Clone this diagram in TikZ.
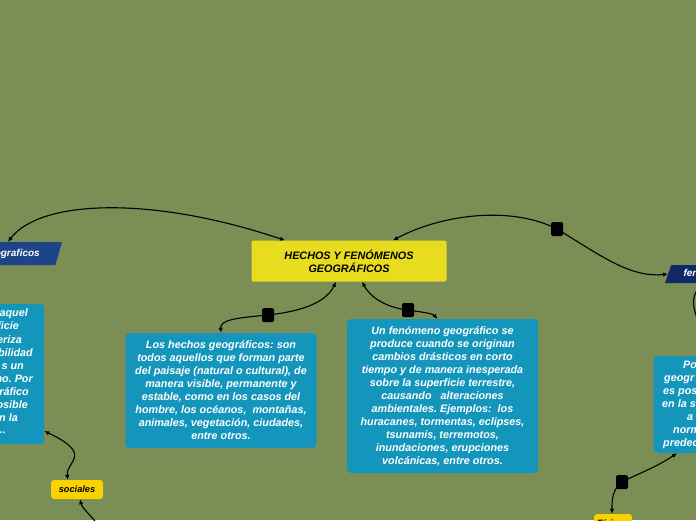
\documentclass[tikz,border=0pt]{standalone}
\usepackage{fontspec}
\setmainfont{Liberation Sans}
\usetikzlibrary{positioning, arrows.meta, shapes.geometric}
\definecolor{fondo}{RGB}{123,142,86}
\definecolor{amarillo}{RGB}{232,220,30}
\definecolor{oro}{RGB}{250,210,0}
\definecolor{celeste}{RGB}{20,150,188}
\definecolor{azul}{RGB}{28,68,134}
\definecolor{marino}{RGB}{14,40,104}
\newcommand{\trespuntos}{...}
\frenchspacing

\begin{document}
\begin{tikzpicture}[x=1pt, y=-1pt,
    caja/.style={rectangle, rounded corners=4pt, fill=celeste, text=white, align=center, inner sep=0pt, minimum width=191pt, font=\bfseries\itshape\fontsize{10.8}{13}\selectfont},
    titulo/.style={rectangle, rounded corners=2pt, fill=amarillo, align=center, minimum width=195pt, minimum height=41pt, font=\bfseries\itshape\fontsize{10.8}{13}\selectfont},
    etiqueta/.style={rectangle, rounded corners=3pt, fill=oro, minimum height=19pt, inner sep=0pt, font=\bfseries\itshape\fontsize{9.2}{11}\selectfont},
    rombo/.style={trapezium, trapezium left angle=62, trapezium right angle=118, trapezium stretches=true, text=white, inner sep=0pt, font=\bfseries\itshape\fontsize{10}{12}\selectfont},
    nudo/.style={rectangle, rounded corners=1.5pt, fill=black, minimum width=12pt, minimum height=14pt, inner sep=0pt},
    frag/.style={inner sep=0pt, text=white, text height=7.5pt, text depth=2pt, font=\bfseries\itshape\fontsize{10.8}{13}\selectfont},
    enlace/.style={line width=1.1pt, {Latex[length=5pt,width=4.5pt]}-{Latex[length=5pt,width=4.5pt]}},
    entra/.style={line width=1.1pt, -{Latex[length=5pt,width=4.5pt]}}
]
\useasboundingbox (0,0) rectangle (696,520);
\fill[fondo] (0,0) rectangle (696,520);

% nodos principales
\node[titulo] (hechos) at (349, 261) {HECHOS Y FENÓMENOS\\GEOGRÁFICOS};
\node[caja, minimum height=115pt] (hechosbox) at (221, 390.5) {Los hechos geográficos: son\\todos aquellos que forman parte\\del paisaje (natural o cultural), de\\manera visible, permanente y\\estable, como en los casos del\\hombre, los océanos,\ \ montañas,\\animales, vegetación, ciudades,\\entre otros.};
\node[caja, minimum height=154pt] (fenbox) at (442.5, 396) {Un fenómeno geográfico se\\produce cuando se originan\\cambios drásticos en corto\\tiempo y de manera inesperada\\sobre la superficie terrestre,\\causando\ \ \ alteraciones\\ambientales. Ejemplos:\ \ los\\huracanes, tormentas, eclipses,\\tsunamis, terremotos,\\inundaciones, erupciones\\volcánicas, entre otros.};

\node[rombo, fill=azul, minimum width=140pt, minimum height=23pt] (geo) at (-8, 253.5) {Hechos geograficos};
\node[rombo, fill=marino, minimum width=150pt, minimum height=18pt] (fenpara) at (740, 274) {fenómenos geográficos};

\node[caja, minimum height=140pt] (defbox) at (-51.5, 374) {};
\node[caja, minimum height=97pt] (porbox) at (749, 404.5) {};

\node[etiqueta, minimum width=52pt] (soc) at (77, 489.5) {sociales};
\node[etiqueta, minimum width=38pt] (fis) at (613, 523.5) {Físicos};

% textos cortados por el borde
\foreach \txt/\xe/\ye [count=\i] in {aquel/28/314, ficie/19/327, eriza/22/341, bilidad/33/354, s un/24/367, no. Por/33/380, ráfico/29/393, osible/28/406, n la/18/419, \trespuntos/6/431}
    \node[frag, anchor=east] (izq\i) at (\xe, \ye) {\txt};
\foreach \txt/\xs/\ye [count=\i] in {Po/683/366, geogr/664/379, es pos/663/392, en la s/662/405, a/687/418, norm/673/431, predec/663/444}
    \node[frag, anchor=west] (der\i) at (\xs, \ye) {\txt};

% nudos
\node[nudo] (n1) at (557, 229) {};
\node[nudo] (n2) at (268, 315) {};
\node[nudo] (n3) at (408, 310) {};
\node[nudo] (n4) at (622, 482) {};
\coordinate (abajo) at (104, 532);

% conexiones
\draw[enlace] ([xshift=16pt]geo.north) .. controls (40,200) and (150,195) .. ([xshift=-64pt]hechos.north);
\draw[enlace] ([xshift=44pt]hechos.north) .. controls (440,215) and (510,205) .. (n1.center) .. controls (600,255) and (630,278) .. (fenpara.west);
\draw[enlace] ([xshift=-13pt]hechos.south) .. controls (325,305) and (295,312) .. (n2.center) .. controls (235,318) and (220,320) .. (hechosbox.north);
\draw[enlace] ([xshift=13pt]hechos.south) .. controls (372,300) and (390,308) .. (n3.center) .. controls (420,312) and (432,313) .. ([xshift=-5pt]fenbox.north);
\draw[enlace] ([yshift=-57pt]defbox.east) .. controls (95,455) and (65,462) .. ([xshift=-9pt]soc.north);
\draw[entra] (abajo) .. controls (88,512) and (82,508) .. ([xshift=3pt]soc.south);
\draw[enlace] ([xshift=-72pt]porbox.south) .. controls (655,468) and (635,475) .. (n4.center) .. controls (612,490) and (612,500) .. ([xshift=-1pt]fis.north);
\draw[enlace] ([xshift=-34pt]fenpara.south) .. controls (688,295) and (690,315) .. ([xshift=-29pt]porbox.north);
\end{tikzpicture}
\end{document}
